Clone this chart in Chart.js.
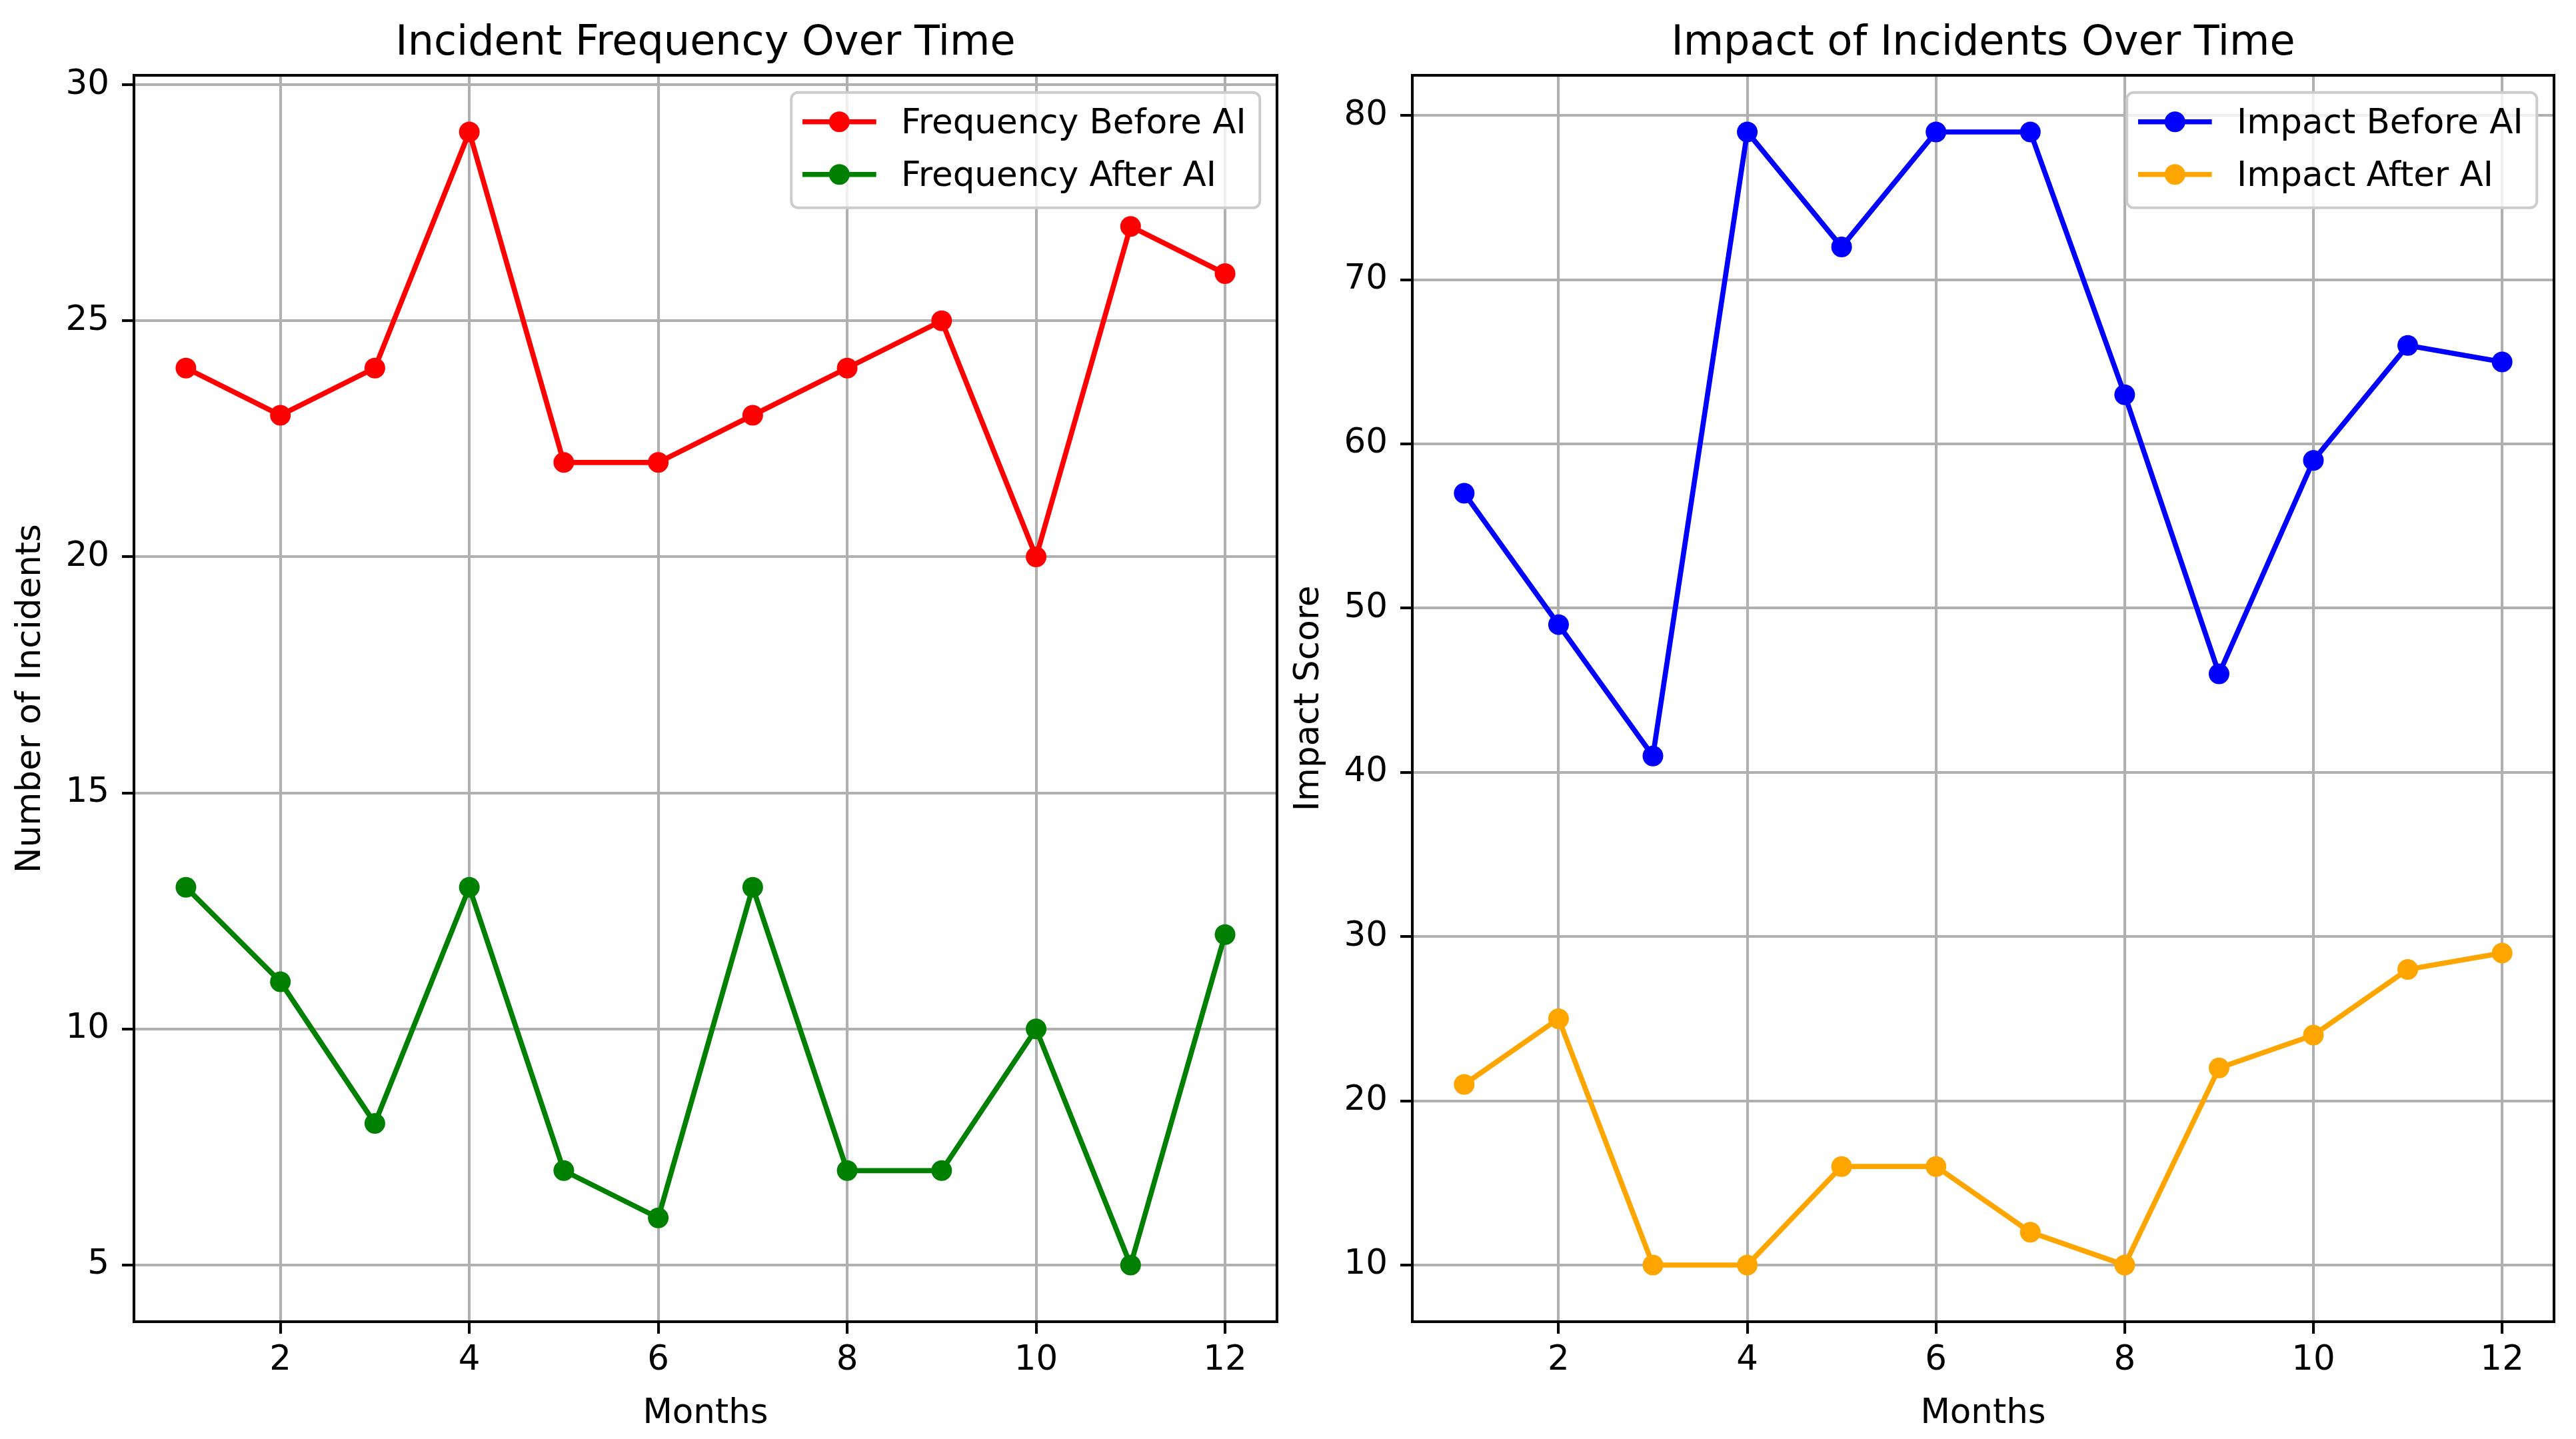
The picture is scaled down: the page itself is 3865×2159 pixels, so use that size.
<!DOCTYPE html>
<html>
<head>
<meta charset="utf-8">
<script src="https://cdn.jsdelivr.net/npm/chart.js@4.4.1/dist/chart.umd.min.js"></script>
<style>
  html, body { margin: 0; padding: 0; background: #fff; }
  body { width: 3865px; height: 2159px; position: relative; overflow: hidden; }
  canvas { position: absolute; left: 0; top: 0; }
</style>
</head>
<body>
<canvas id="freqChart" width="3865" height="2159"></canvas>
<canvas id="impactChart" width="3865" height="2159"></canvas>
<script>
// data
const months = [1, 2, 3, 4, 5, 6, 7, 8, 9, 10, 11, 12];
const freqBefore = [24, 23, 24, 29, 22, 22, 23, 24, 25, 20, 27, 26];
const freqAfter = [13, 11, 8, 13, 7, 6, 13, 7, 7, 10, 5, 12];
const impactBefore = [57, 49, 41, 79, 72, 79, 79, 63, 46, 59, 66, 65];
const impactAfter = [21, 25, 10, 10, 16, 16, 12, 10, 22, 24, 28, 29];

const monthTicks = [2, 4, 6, 8, 10, 12];
const freqTicks = [5, 10, 15, 20, 25, 30];
const impactTicks = [10, 20, 30, 40, 50, 60, 70, 80];

// sizes (matplotlib points at ~5.15 px/pt)
const FONT_PX = 51.5;
const TITLE_PX = 62;
const LINE_W = 7.7;
const POINT_R = 15.5;
const GRID_W = 4.1;
const SPINE_W = 4.1;
const FONT = '"DejaVu Sans", sans-serif';
const Y_AXIS_W = 180;   // room kept for y tick labels
const X_AXIS_H = 120;   // room kept for x tick labels

// 5% margins like matplotlib
const pad5 = (arr) => {
    const lo = Math.min(...arr), hi = Math.max(...arr);
    const m = (hi - lo) * 0.05;
    return [lo - m, hi + m];
};

const decor = {
    id: 'decor',
    afterDraw(chart, args, opts) {
        const ctx = chart.ctx;
        const a = chart.chartArea;
        const cx = (a.left + a.right) / 2;
        ctx.save();

        // spines
        ctx.strokeStyle = '#000';
        ctx.lineWidth = SPINE_W;
        ctx.strokeRect(a.left, a.top, a.right - a.left, a.bottom - a.top);

        // title and axis labels
        ctx.fillStyle = '#000';
        ctx.textAlign = 'center';
        ctx.textBaseline = 'alphabetic';
        ctx.font = `${TITLE_PX}px ${FONT}`;
        ctx.fillText(opts.title, cx, a.top - 31);
        ctx.font = `${FONT_PX}px ${FONT}`;
        ctx.fillText(opts.xLabel, cx, a.bottom + 152);
        ctx.save();
        ctx.translate(a.left - 141, (a.top + a.bottom) / 2);
        ctx.rotate(-Math.PI / 2);
        ctx.fillText(opts.yLabel, 0, 0);
        ctx.restore();

        // legend, upper right
        const fs = FONT_PX;
        const bp = 0.4 * fs, hl = 2 * fs, tp = 0.8 * fs;
        const sets = chart.data.datasets;
        const tw = Math.max(...sets.map(d => ctx.measureText(d.label).width));
        const w = 2 * bp + hl + tp + tw;
        const h = 173;
        const x0 = a.right - 0.5 * fs - w;
        const y0 = a.top + 0.5 * fs;
        ctx.beginPath();
        ctx.roundRect(x0, y0, w, h, 10);
        ctx.fillStyle = 'rgba(255,255,255,0.8)';
        ctx.fill();
        ctx.strokeStyle = '#cccccc';
        ctx.lineWidth = 4;
        ctx.stroke();

        sets.forEach((d, i) => {
            const cy = y0 + 44 + i * 79;
            const hx = x0 + bp;
            ctx.strokeStyle = d.borderColor;
            ctx.lineWidth = LINE_W;
            ctx.lineCap = 'square';
            ctx.beginPath();
            ctx.moveTo(hx, cy);
            ctx.lineTo(hx + hl, cy);
            ctx.stroke();
            ctx.fillStyle = d.borderColor;
            ctx.beginPath();
            ctx.arc(hx + hl / 2, cy, POINT_R, 0, Math.PI * 2);
            ctx.fill();
            ctx.fillStyle = '#000';
            ctx.textAlign = 'left';
            ctx.fillText(d.label, hx + hl + tp, cy + 17);
        });

        ctx.restore();
    }
};

const series = (label, values, color) => ({
    label: label,
    data: months.map((m, i) => ({ x: m, y: values[i] })),
    borderColor: color,
    backgroundColor: color,
    pointBackgroundColor: color,
    pointBorderColor: color,
    pointBorderWidth: 0,
    pointRadius: POINT_R,
    borderWidth: LINE_W,
    borderJoinStyle: 'round',
    tension: 0,
    fill: false,
    clip: false,
});

const makeChart = (canvasId, box, datasets, yTicks, yData, labels) => {
    const [xMin, xMax] = pad5(months);
    const [yMin, yMax] = pad5(yData);
    const grid = () => ({
        color: '#b0b0b0',
        lineWidth: GRID_W,
        tickColor: '#000',
        tickWidth: SPINE_W,
        tickLength: 18,
    });
    return new Chart(document.getElementById(canvasId).getContext('2d'), {
        type: 'line',
        data: { datasets: datasets },
        options: {
            responsive: false,
            devicePixelRatio: 1,
            animation: false,
            events: [],
            layout: {
                padding: {
                    left: box.left - Y_AXIS_W,
                    top: box.top,
                    right: 3865 - box.right,
                    bottom: 2159 - box.bottom - X_AXIS_H,
                },
            },
            plugins: {
                legend: { display: false },
                title: { display: false },
                tooltip: { enabled: false },
                decor: labels,
            },
            scales: {
                x: {
                    type: 'linear',
                    min: xMin,
                    max: xMax,
                    grid: grid(),
                    border: { display: false },
                    ticks: { color: '#000', font: { family: FONT, size: FONT_PX }, padding: 10, maxRotation: 0, autoSkip: false },
                    afterBuildTicks: (s) => { s.ticks = monthTicks.map(v => ({ value: v })); },
                    afterFit: (s) => { s.height = X_AXIS_H; },
                },
                y: {
                    type: 'linear',
                    min: yMin,
                    max: yMax,
                    grid: grid(),
                    border: { display: false },
                    ticks: { color: '#000', font: { family: FONT, size: FONT_PX }, padding: 19, autoSkip: false },
                    afterBuildTicks: (s) => { s.ticks = yTicks.map(v => ({ value: v })); },
                    afterFit: (s) => { s.width = Y_AXIS_W; },
                },
            },
        },
        plugins: [decor],
    });
};

makeChart('freqChart', { left: 201, top: 113, right: 1916, bottom: 1983 },
    [series('Frequency Before AI', freqBefore, '#ff0000'), series('Frequency After AI', freqAfter, '#008000')],
    freqTicks, freqBefore.concat(freqAfter),
    { title: 'Incident Frequency Over Time', xLabel: 'Months', yLabel: 'Number of Incidents' });

makeChart('impactChart', { left: 2119, top: 113, right: 3832, bottom: 1983 },
    [series('Impact Before AI', impactBefore, '#0000ff'), series('Impact After AI', impactAfter, '#ffa500')],
    impactTicks, impactBefore.concat(impactAfter),
    { title: 'Impact of Incidents Over Time', xLabel: 'Months', yLabel: 'Impact Score' });
</script>
</body>
</html>
